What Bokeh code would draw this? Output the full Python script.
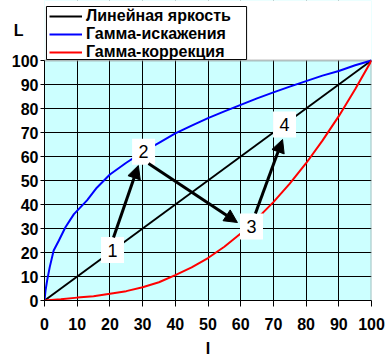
from bokeh.plotting import figure
from bokeh.models import (Legend, LegendItem, FixedTicker, Arrow, NormalHead,
                          ColumnDataSource, LinearAxis)
from bokeh.core.properties import value
from bokeh.embed import file_html
from bokeh.resources import INLINE

# ---- data ----
x_lin = [0, 100]
y_lin = [0, 100]

x_gam = [0, 0.3, 0.8, 1.6, 2.8, 4.4, 6.4, 9, 13, 16, 20, 25, 30, 35, 40, 45, 50, 55, 60, 65,
         70, 75, 80, 85, 90, 95, 100]
y_gam = [0, 4, 8.3, 13.9, 20.8, 25, 30.5, 36, 41.7, 47, 52.5, 57.4, 61.8, 65.7, 69.6, 72.9,
         76, 78.8, 81.5, 84.2, 86.7, 89.1, 91.4, 93.7, 95.6, 98, 100]

x_cor = [0, 5, 10, 15, 20, 25, 30, 35, 40, 45, 50, 55, 60, 65, 70, 75, 80, 85, 90, 95, 100]
y_cor = [0, 0.5, 1.2, 1.8, 2.8, 3.9, 5.5, 7.6, 10.6, 13.8, 17.7, 22.4, 27.9, 34.1, 41,
         48.7, 57.2, 66.6, 76.8, 88, 100]

ticks = [0, 10, 20, 30, 40, 50, 60, 70, 80, 90, 100]
grid_ticks = [10, 20, 30, 40, 50, 60, 70, 80, 90]

names = ["Линейная яркость", "Гамма-искажения", "Гамма-коррекция"]
x_title = "I"
y_title = "L"

box_x = [20.8, 30.3, 63.3, 73.4]
box_y = [21, 62, 30.8, 73.3]
box_txt = ["1", "2", "3", "4"]

arr_x0 = [21.1, 31.8, 64.5]
arr_y0 = [26.25, 57.1, 36.25]
arr_x1 = [28.7, 59.0, 72.8]
arr_y1 = [56.25, 32.5, 67.1]

FONT = "Liberation Sans"
Y_END = 125      # headroom above the plot area for the legend
L_POS = 112.5    # height of the "L" title
LEG_BOX = dict(left=0.6, right=61.8, bottom=100.4, top=122.5)  # legend frame

lo, hi = ticks[0], ticks[-1]

p = figure(width=390, height=363, x_range=(lo, hi), y_range=(lo, Y_END),
           output_backend="svg", toolbar_location=None,
           min_border_left=44, min_border_right=19, min_border_top=0, min_border_bottom=63)
p.background_fill_color = "#CCFFFF"
p.border_fill_color = "white"
p.outline_line_color = None

for ax in (p.xaxis, p.yaxis):
    ax.ticker = FixedTicker(ticks=ticks)
    ax.minor_tick_line_color = None
    ax.major_tick_in = 0
    ax.axis_line_color = "black"
    ax.axis_line_width = 1
    ax.major_tick_line_color = "black"
    ax.major_label_text_font = FONT
    ax.major_label_text_font_style = "bold"
    ax.major_label_text_font_size = "16px"
    ax.major_label_text_color = "black"
    ax.axis_label_text_font = FONT
    ax.axis_label_text_font_style = "bold"
    ax.axis_label_text_font_size = "16px"
    ax.axis_label_text_color = "black"
p.yaxis.bounds = (lo, hi)
p.xaxis.major_tick_out = 6
p.xaxis.major_label_standoff = 11
p.yaxis.major_tick_out = 4
p.yaxis.major_label_standoff = 2

p.xaxis.axis_label = x_title
p.xaxis.axis_label_standoff = 7

ytitle_axis = LinearAxis(ticker=FixedTicker(ticks=[L_POS]),
                         major_label_overrides={L_POS: y_title},
                         axis_line_color=None, major_tick_line_color=None,
                         minor_tick_line_color=None, major_tick_out=0, major_tick_in=0,
                         major_label_standoff=-15, major_label_text_font=FONT,
                         major_label_text_font_style="bold",
                         major_label_text_font_size="16px", major_label_text_color="black")
p.add_layout(ytitle_axis, "left")

for g in (p.xgrid, p.ygrid):
    g.ticker = FixedTicker(ticks=grid_ticks)
    g.grid_line_color = "black"
    g.grid_line_width = 1

# white headroom above the plot area
p.quad(left=lo, right=hi, bottom=hi, top=Y_END, fill_color="white", line_color=None)
# plot-area border (top and right)
p.line([lo, hi, hi], [hi, hi, lo], line_color="#808080", line_width=2, line_dash="1 1")
# legend frame
p.quad(fill_color="white", line_color="black", line_width=1, **LEG_BOX)

r_lin = p.line(x_lin, y_lin, line_color="black", line_width=2)
r_gam = p.line(x_gam, y_gam, line_color="#0000FF", line_width=2)
r_cor = p.line(x_cor, y_cor, line_color="#FF0000", line_width=2)

for i in range(len(arr_x0)):
    p.add_layout(Arrow(end=NormalHead(size=13, fill_color="black", line_color="black"),
                       x_start=arr_x0[i], y_start=arr_y0[i], x_end=arr_x1[i], y_end=arr_y1[i],
                       line_color="black", line_width=3))

src = ColumnDataSource(dict(x=box_x, y=box_y, t=box_txt))
p.rect("x", "y", width=23, height=26, width_units="screen", height_units="screen",
       fill_color="white", line_color=None, source=src)
p.text("x", "y", text="t", text_align="center", text_baseline="middle",
       text_font=value("Liberation Sans"), text_font_size="18px", text_color="black",
       source=src)

legend = Legend(items=[LegendItem(label=names[0], renderers=[r_lin]),
                       LegendItem(label=names[1], renderers=[r_gam]),
                       LegendItem(label=names[2], renderers=[r_cor])],
                location=(5, 239), orientation="vertical",
                padding=3, spacing=0, margin=0, label_height=16, glyph_height=16,
                glyph_width=33, label_standoff=4,
                label_text_font=FONT, label_text_font_style="bold",
                label_text_font_size="16px", label_text_color="black",
                border_line_color=None, background_fill_alpha=0)
p.add_layout(legend, "center")

open("out.html", "w").write(file_html(p, INLINE))
